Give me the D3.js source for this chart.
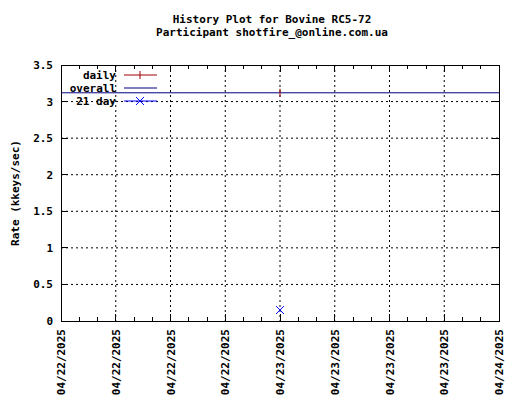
<!DOCTYPE html>
<html><head><meta charset="utf-8">
<script src="https://cdn.jsdelivr.net/npm/d3@7"></script>
<style>
body{margin:0;background:#fff}
text{font-family:"DejaVu Sans Mono",monospace;font-size:11px;font-weight:bold;fill:#000}
</style></head><body>
<script>
// data
var xStart = new Date(2025, 3, 22, 0), xEnd = new Date(2025, 3, 24, 0);
var dailyDates = [new Date(2025, 3, 23, 0)];
var dailyRates = [3.12];
var overallRate = 3.12;
var day21Dates = [new Date(2025, 3, 23, 0)];
var day21Rates = [0.15];
var yTicks = [0, 0.5, 1, 1.5, 2, 2.5, 3, 3.5];

var svg = d3.select("body").append("svg").attr("width", 520).attr("height", 400);
var pLeft = 61, pRight = 499, pTop = 65, pBottom = 321;

var x = d3.scaleTime().domain([xStart, xEnd]).range([pLeft, pRight]);
var y = d3.scaleLinear().domain([0, 3.5]).range([pBottom, pTop]);
var xTicks = d3.range(9).map(i => new Date(+xStart + i * 6 * 3600e3));
var fmt = d3.timeFormat("%m/%d/%Y");

svg.append("text").attr("x", 272).attr("y", 23).attr("text-anchor", "middle").text("History Plot for Bovine RC5-72");
svg.append("text").attr("x", 272).attr("y", 36).attr("text-anchor", "middle").text("Participant shotfire_@online.com.ua");

// grid
var g = svg.append("g").attr("stroke", "#000").attr("stroke-dasharray", "2,3").attr("stroke-width", 1);
xTicks.slice(1, -1).forEach(t => g.append("line").attr("x1", x(t)).attr("x2", x(t)).attr("y1", pTop).attr("y2", pBottom));
yTicks.slice(1, -1).forEach(v => g.append("line").attr("x1", pLeft).attr("x2", pRight).attr("y1", y(v)).attr("y2", y(v)));

// axes
var ax = svg.append("g").attr("stroke", "#000").attr("shape-rendering", "crispEdges");
ax.append("rect").attr("x", pLeft).attr("y", pTop).attr("width", pRight - pLeft).attr("height", pBottom - pTop).attr("fill", "none");
xTicks.forEach((t, i) => {
  ax.append("line").attr("x1", x(t)).attr("x2", x(t)).attr("y1", pBottom).attr("y2", pBottom - 7);
  ax.append("line").attr("x1", x(t)).attr("x2", x(t)).attr("y1", pTop).attr("y2", pTop + 7);
  if (i < 8) [1, 2].forEach(k => {
    var xm = x(+t + k * 2 * 3600e3);
    ax.append("line").attr("x1", xm).attr("x2", xm).attr("y1", pBottom).attr("y2", pBottom - 4);
    ax.append("line").attr("x1", xm).attr("x2", xm).attr("y1", pTop).attr("y2", pTop + 4);
  });
  svg.append("text").attr("transform", `translate(${x(t) + 4},${pBottom + 8}) rotate(-90)`).attr("text-anchor", "end").text(fmt(t));
});
yTicks.forEach(v => {
  ax.append("line").attr("x1", pLeft).attr("x2", pLeft + 7).attr("y1", y(v)).attr("y2", y(v));
  ax.append("line").attr("x1", pRight).attr("x2", pRight - 7).attr("y1", y(v)).attr("y2", y(v));
  svg.append("text").attr("x", pLeft - 8).attr("y", y(v) + 4).attr("text-anchor", "end").text(v);
});
svg.append("text").attr("transform", `translate(19,${(pTop + pBottom) / 2}) rotate(-90)`).attr("text-anchor", "middle").text("Rate (kkeys/sec)");

// series
svg.append("line").attr("x1", pLeft).attr("x2", pRight).attr("y1", y(overallRate)).attr("y2", y(overallRate)).attr("stroke", "#000080");
dailyDates.forEach((d, i) => {
  svg.append("line").attr("x1", x(d)).attr("x2", x(d)).attr("y1", y(dailyRates[i]) - 4).attr("y2", y(dailyRates[i]) + 4).attr("stroke", "#a00000");
});
function cross(cx, cy) {
  svg.append("path").attr("d", `M${cx - 4},${cy - 4}L${cx + 4},${cy + 4}M${cx - 4},${cy + 4}L${cx + 4},${cy - 4}`).attr("stroke", "#0000ff");
}
day21Dates.forEach((d, i) => cross(x(d), y(day21Rates[i])));

// legend
var leg = [["daily", "#a00000", "plus"], ["overall", "#000080", ""], ["21 day", "#0000ff", "x"]];
leg.forEach((l, i) => {
  var ly = 75 + i * 13;
  svg.append("text").attr("x", 116).attr("y", ly + 4).attr("text-anchor", "end").text(l[0]);
  svg.append("line").attr("x1", 124).attr("x2", 157).attr("y1", ly).attr("y2", ly).attr("stroke", l[1]);
  if (l[2] == "plus") svg.append("line").attr("x1", 140).attr("x2", 140).attr("y1", ly - 4).attr("y2", ly + 4).attr("stroke", l[1]);
  if (l[2] == "x") cross(140, ly);
});
</script></body></html>
